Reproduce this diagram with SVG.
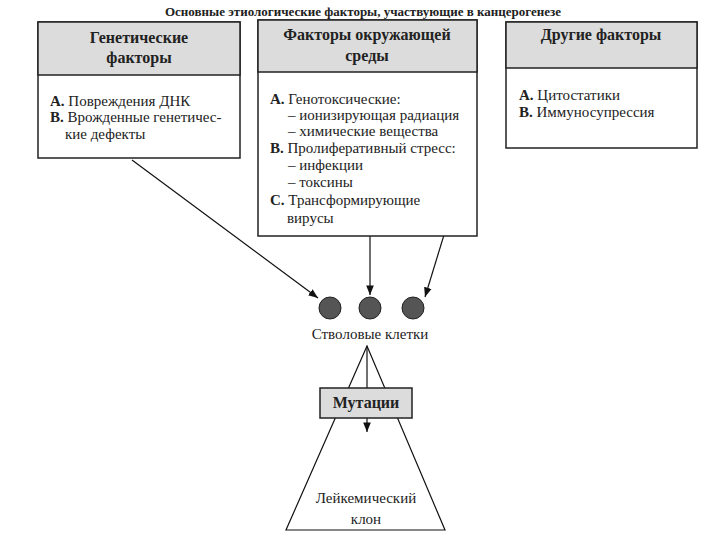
<svg xmlns="http://www.w3.org/2000/svg" width="720" height="540" viewBox="0 0 720 540">
<defs>
<marker id="ar" viewBox="0 0 10 10" refX="10" refY="5" markerWidth="8" markerHeight="8" orient="auto"><path d="M0,1 L10,5 L0,9 z" fill="#111"/></marker>
<style>
text{font-family:"Liberation Serif",serif;fill:#222}
.h{font-weight:bold;font-size:16px}
.t{font-size:15px}
.box{fill:#fff;stroke:#222;stroke-width:1.5}
.hd{fill:#dcdcdc;stroke:#222;stroke-width:1.5}
.ln{stroke:#111;stroke-width:1.2;fill:none}
</style>
</defs>
<rect width="720" height="540" fill="#fff"/>
<text x="363" y="16" text-anchor="middle" font-weight="bold" font-size="13">Основные этиологические факторы, участвующие в канцерогенезе</text>
<g id="connectors">
<line class="ln" x1="132" y1="160" x2="318" y2="298" marker-end="url(#ar)"/>
<line class="ln" x1="370" y1="236" x2="370" y2="295" marker-end="url(#ar)"/>
<line class="ln" x1="470" y1="150" x2="425" y2="297" marker-end="url(#ar)"/>
<line class="ln" x1="367" y1="346" x2="367" y2="432" marker-end="url(#ar)"/>
</g>
<g id="genetic">
<rect class="box" x="38" y="22" width="202" height="136"/>
<rect class="hd" x="38" y="22" width="202" height="53"/>
<text x="139" y="43" text-anchor="middle" class="h">Генетические</text>
<text x="139" y="63" text-anchor="middle" class="h">факторы</text>
<text x="50" y="106" class="t"><tspan font-weight="bold">A.</tspan> Повреждения ДНК</text>
<text x="50" y="122" class="t"><tspan font-weight="bold">B.</tspan> Врожденные генетичес-</text>
<text x="65" y="139" class="t">кие дефекты</text>
</g>
<g id="environment">
<rect class="box" x="258" y="20" width="219" height="216"/>
<rect class="hd" x="258" y="20" width="219" height="52"/>
<text x="367" y="40" text-anchor="middle" class="h">Факторы окружающей</text>
<text x="367" y="61" text-anchor="middle" class="h">среды</text>
<text x="270" y="104" class="t"><tspan font-weight="bold">A.</tspan> Генотоксические:</text>
<text x="288" y="120" class="t">–  ионизирующая радиация</text>
<text x="288" y="136" class="t">–  химические вещества</text>
<text x="270" y="153" class="t"><tspan font-weight="bold">B.</tspan> Пролиферативный стресс:</text>
<text x="288" y="170" class="t">–  инфекции</text>
<text x="288" y="187" class="t">–  токсины</text>
<text x="270" y="205" class="t"><tspan font-weight="bold">C.</tspan> Трансформирующие</text>
<text x="287" y="223" class="t">вирусы</text>
</g>
<g id="other">
<rect class="box" x="506" y="22" width="191" height="126"/>
<rect class="hd" x="506" y="22" width="191" height="46"/>
<text x="601" y="40" text-anchor="middle" class="h">Другие факторы</text>
<text x="519" y="100" class="t"><tspan font-weight="bold">A.</tspan> Цитостатики</text>
<text x="519" y="117" class="t"><tspan font-weight="bold">B.</tspan> Иммуносупрессия</text>
</g>
<g id="stemcells">
<circle cx="330" cy="308" r="11" fill="#555" stroke="#222"/>
<circle cx="370" cy="308" r="11" fill="#555" stroke="#222"/>
<circle cx="413" cy="308" r="11" fill="#555" stroke="#222"/>
<text x="370" y="339" text-anchor="middle" class="t">Стволовые клетки</text>
</g>
<g id="clone">
<polygon class="ln" points="367,346 286,530 445,530"/>
<text x="366" y="503" text-anchor="middle" class="t">Лейкемический</text>
<text x="366" y="524" text-anchor="middle" class="t">клон</text>
</g>
<g id="mutations">
<rect x="320" y="388" width="92" height="30" fill="#dcdcdc" stroke="#222" stroke-width="1.5"/>
<text x="366" y="408" text-anchor="middle" class="h">Мутации</text>
</g>
</svg>
